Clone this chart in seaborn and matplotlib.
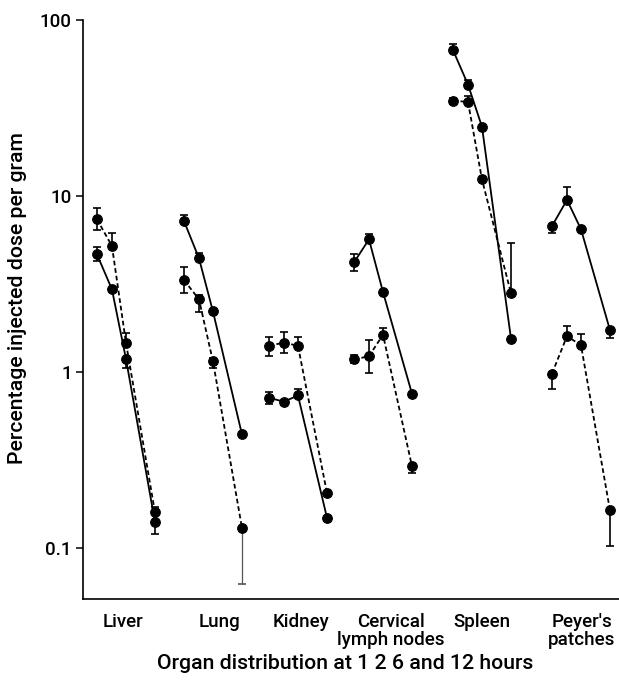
import matplotlib
matplotlib.use("Agg")
import matplotlib.pyplot as plt
import seaborn as sns
import numpy as np
import pandas as pd

# ---- data -------------------------------------------------------------
organs = ["Liver", "Lung", "Kidney", "Cervical\nlymph nodes", "Spleen", "Peyer's\npatches"]
hours = [1, 2, 6, 12]

solid_vals = [
    [4.66, 2.95, 1.19, 0.141],
    [7.21, 4.43, 2.21, 0.443],
    [0.715, 0.679, 0.737, 0.149],
    [4.19, 5.67, 2.85, 0.754],
    [67.3, 42.9, 24.7, 1.55],
    [6.75, 9.49, 6.47, 1.73],
]
solid_err_up = [
    [0.5, 0, 0, 0],
    [0.6, 0.3, 0, 0],
    [0.06, 0, 0.06, 0],
    [0.5, 0.38, 0, 0],
    [5.5, 2.7, 0, 0],
    [0, 1.8, 0, 0],
]
solid_err_down = [
    [0.4, 0, 0.13, 0.02],
    [0, 0, 0, 0],
    [0.055, 0, 0, 0.007],
    [0.44, 0, 0, 0],
    [0, 0, 0, 0],
    [0.6, 0, 0, 0.17],
]

dashed_vals = [
    [7.37, 5.2, 1.47, 0.16],
    [3.33, 2.59, 1.15, 0.1305],
    [1.41, 1.47, 1.41, 0.206],
    [1.18, 1.23, 1.63, 0.292],
    [34.7, 34.2, 12.4, 2.80],
    [0.98, 1.60, 1.42, 0.164],
]
dashed_err_up = [
    [1.2, 1.0, 0.2, 0.011],
    [0.6, 0.15, 0.06, 0],
    [0.18, 0.22, 0.18, 0],
    [0.07, 0.29, 0.15, 0],
    [1.4, 2.5, 0, 2.6],
    [0, 0.23, 0.22, 0],
]
dashed_err_down = [
    [1.0, 0, 0, 0],
    [0.53, 0.4, 0.1, 0.068],
    [0.17, 0.18, 0, 0],
    [0.06, 0.24, 0, 0.024],
    [1.3, 0, 0, 0],
    [0.18, 0, 0, 0.061],
]

y_ticks = [0.1, 1, 10, 100]
y_tick_labels = ["0.1", "1", "10", "100"]
x_title = "Organ distribution at 1 2 6 and 12 hours"
y_title = "Percentage injected dose per gram"

# ---- layout (horizontal placement of groups) ---------------------------
group_left = [97, 184, 269, 354, 453, 552]
hour_offset = [0, 15, 29, 58]
label_pos = [123, 220, 301, 391, 482, 582]

rows = []
for series, vals, eu, ed in [("solid", solid_vals, solid_err_up, solid_err_down),
                             ("dashed", dashed_vals, dashed_err_up, dashed_err_down)]:
    for i, org in enumerate(organs):
        for j, h in enumerate(hours):
            rows.append(dict(series=series, organ=org, hour=h,
                             x=group_left[i] + hour_offset[j],
                             value=vals[i][j], up=eu[i][j], down=ed[i][j]))
df = pd.DataFrame(rows)

# ---- plot ----------------------------------------------------------------
sns.set_style("white")
plt.rcParams["font.family"] = ["Roboto", "DejaVu Sans"]
plt.rcParams["font.weight"] = "medium"
plt.rcParams["text.color"] = "black"
plt.rcParams["axes.labelcolor"] = "black"
plt.rcParams["xtick.color"] = "black"
plt.rcParams["ytick.color"] = "black"

fig = plt.figure(figsize=(6.19, 6.83), dpi=100)
ax = fig.add_axes([0.134, 0.123, 0.866, 0.848])
ax.set_yscale("log")

# error bars
for _, r in df.iterrows():
    if r["up"] == 0 and r["down"] == 0:
        continue
    faint = (r["organ"] == "Lung" and r["series"] == "dashed" and r["hour"] == 12)
    ax.errorbar([r["x"]], [r["value"]],
                yerr=[[r["down"]], [r["up"]]],
                fmt="none", ecolor="#555555" if faint else "black",
                elinewidth=0.9 if faint else 1.2,
                ls=":" if faint else "-",
                capsize=3.2, capthick=1.2, zorder=2)

sns.lineplot(data=df, x="x", y="value", style="series", units="organ",
             estimator=None, sort=False, color="black",
             markers={"solid": "o", "dashed": "o"},
             dashes={"solid": "", "dashed": (2.6, 1.6)},
             markersize=7, markeredgecolor="black", linewidth=1.3,
             legend=False, ax=ax, zorder=3)

ax.set_ylim(0.0515, 100)
ax.set_xlim(83, 619)
ax.set_yticks(y_ticks)
ax.set_yticklabels(y_tick_labels, fontweight="medium", color="black")
ax.yaxis.set_minor_locator(matplotlib.ticker.NullLocator())
ax.tick_params(axis="y", which="major", direction="out", length=5, width=1.1,
               labelsize=13.5, pad=3, left=True, color="black", labelcolor="black")
ax.set_xticks(label_pos)
ax.set_xticklabels(organs, fontsize=13.5, linespacing=1.0, fontweight="medium",
                   color="black")
ax.tick_params(axis="x", length=0, pad=10, labelcolor="black")

for s in ["top", "right"]:
    ax.spines[s].set_visible(False)
for s in ["left", "bottom"]:
    ax.spines[s].set_color("black")
    ax.spines[s].set_linewidth(1.2)

ax.set_xlabel(x_title, fontsize=15.3, fontweight="medium", va="center", color="black")
ax.xaxis.set_label_coords(0.49, -0.112)
ax.set_ylabel(y_title, fontsize=15.3, fontweight="medium", va="center", color="black")
ax.yaxis.set_label_coords(-0.122, 0.52)
ax.grid(False)

fig.savefig("out.png", dpi=100)
